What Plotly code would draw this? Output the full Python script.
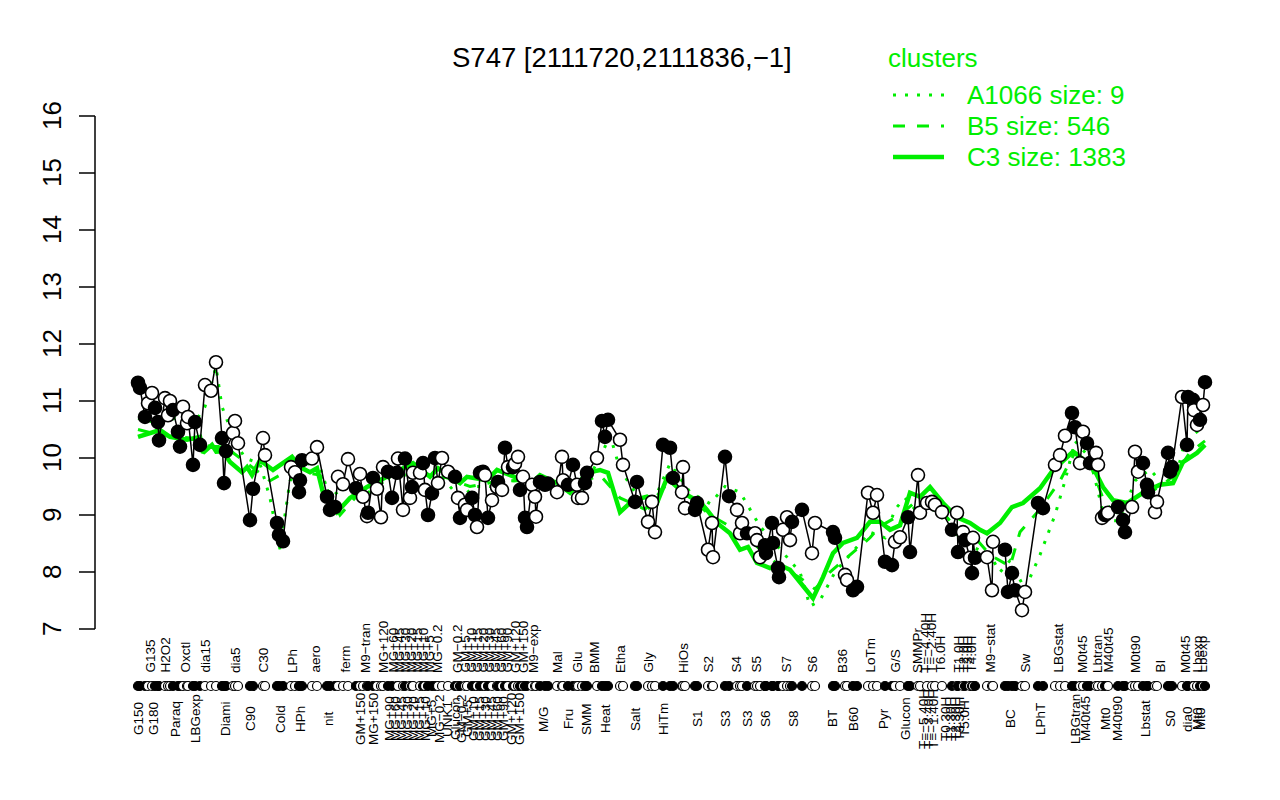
import plotly.graph_objects as go

# ---------------- data ----------------
# position along the sample axis, expression value, marker fill (1 = filled black)
pos = [0.75, 1.25, 2.5, 3.25, 4.25, 5, 5.75, 6, 7.5, 8.25, 8.75, 9.5, 10.75, 11.25, 12, 13, 13.25, 14.5, 15, 16.25,
       17.5, 19, 20.25, 21.75, 22.25, 22.75, 24.5, 25, 25.75, 28.75, 29.5, 32, 32.5, 35.5, 36, 37, 39, 40, 41, 41.25,
       41.75, 44.25, 45.5, 48, 48.75, 50, 50.75, 52, 53.25, 55.25, 56.25, 57, 58, 58.25, 59.5, 60.5, 61.5, 62, 63.25, 64.25,
       65.5, 65.75,
       67, 67.5, 68.75, 69.25, 69.5, 71.25, 72, 72.5, 73.25, 74.25, 75, 75.75, 76.75, 78.25, 80, 80.75, 81.25, 82.5, 83, 84.25,
       85, 85.5, 86.25, 87, 87.5, 88.25, 89.25, 90.5, 90.75, 91.75, 92.5, 93.25, 94.5, 95, 95.75, 96.25, 97, 97.5, 98, 99.25,
       100, 100.25, 101.25, 102.5, 103.25, 105.5, 106.75, 107, 108.25, 109.5, 110.5, 110.75, 111.75, 112.5, 113, 115.5,
       116.75, 117.5, 118.25, 121.25, 122, 125, 125.5, 128.25, 129.25, 130, 132, 133.75, 134.5, 136.75, 137, 137.5, 140, 140.5,
       143.25, 144.25, 144.5, 147.5, 148.5, 150.5, 151.25, 151.75, 153, 155, 155.5, 156.25, 157.5, 157.75, 159.25, 159.5,
       160.75, 161, 162, 163, 163.75, 164.25, 166.75, 169.25, 170, 174.5, 175, 177.5, 178, 179.5, 180.5, 183.25, 184.5, 185.5,
       187.5, 189.25, 190, 191.25, 193.25, 193.75, 195.75, 196.25, 198, 199.25, 200, 201.75, 204.25, 205.5, 205.75, 207, 207.5,
       208.75, 209.25, 209.5, 210,
       213, 214.25, 214.5, 217.5, 218.25, 219.25, 220, 221.75, 222.5, 225.75, 227, 230, 231.25, 232.5, 234.25, 235, 236.25,
       237, 238, 238.75, 240.25, 240.75, 241.75, 242.5, 243.25, 245.75, 247, 247.5, 249.25, 250, 250.75, 252, 253, 253.25,
       255, 255.5, 258.25, 258.75, 259.25, 261.75, 263, 263.25, 264.5, 264.75, 265.5, 266.25, 267, 267.5]
expr = [11.32, 11.23, 10.72, 10.96, 11.14, 10.88, 10.63, 10.31, 11.05, 10.75, 11.0, 10.84, 10.46, 10.2, 10.9, 10.61, 10.72, 9.88, 10.63, 10.23,
        11.28, 11.18, 11.68, 10.35, 9.56, 10.12, 10.44, 10.65, 10.26, 8.91, 9.46, 10.35, 10.05, 8.86, 8.65, 8.54, 9.84, 9.75, 9.4, 9.61,
        9.96, 9.99, 10.19, 9.32, 9.09, 9.14, 9.67, 9.54, 9.98, 9.47, 9.72, 9.32, 8.98, 9.04, 9.65, 9.46, 8.96, 9.84, 9.76, 9.3,
        9.74, 9.99,
        9.09, 9.99, 9.3, 9.49, 9.74, 9.74, 9.91, 9.44, 9.0, 9.38, 10.0, 9.56, 10.0, 9.76, 9.67, 9.3, 8.95, 9.18, 9.09, 9.3,
        9.0, 8.79, 9.74, 9.76, 9.7, 8.95, 9.26, 9.49, 9.58, 9.44, 10.18, 9.84, 9.84, 9.9, 10.02, 9.44, 9.67, 8.95, 8.79, 9.53,
        9.32, 8.97, 9.58, 9.53, 9.55, 9.4, 10.02, 9.61, 9.53, 9.88, 9.53, 9.3, 9.3, 9.56, 9.74, 10.0,
        10.65, 10.37, 10.67, 10.32, 9.88, 9.23, 9.58, 8.88, 9.23, 8.7, 10.23, 10.18, 9.65, 9.4, 9.84, 9.12, 9.09, 9.21,
        8.39, 8.86, 8.26, 10.02, 9.33, 9.09, 8.68, 8.86, 8.68, 8.68, 8.56, 8.26, 8.47, 8.33, 8.86, 8.51,
        8.07, 7.91, 8.74, 8.96, 8.56, 8.88, 9.09, 8.33, 8.86, 8.7, 8.6, 7.95, 7.86, 7.68, 7.74, 9.39, 9.04, 9.35,
        8.18, 8.12, 8.53, 8.61, 8.96, 8.35, 9.7, 9.04, 9.21, 9.23, 9.18, 9.05, 8.74, 9.04, 8.35, 8.7, 8.56,
        8.25, 7.98, 8.6, 8.25,
        8.26, 7.68, 8.53, 8.39, 7.65, 7.98, 7.68, 7.33, 7.65, 9.21, 9.12, 9.88, 10.05, 10.39, 10.79, 10.54, 9.91,
        10.46, 10.26, 9.91, 10.09, 9.88, 8.95, 9.0, 9.04, 9.14, 8.91, 8.7, 9.14, 10.11, 9.76, 9.91, 9.53, 9.4,
        9.05, 9.23, 10.09, 9.76, 9.84, 11.07, 10.23, 11.07, 11.02, 10.84, 10.58, 10.67, 10.93, 11.33]
filled = [1, 1, 1, 0, 0, 1, 1, 1, 0, 0, 0, 1, 1, 1, 0, 0, 0, 1, 1, 1,
          0, 0, 0, 1, 1, 1, 0, 0, 0, 1, 1, 0, 0, 1, 1, 1, 0, 0, 1, 1,
          1, 0, 0, 1, 1, 1, 0, 0, 0, 1, 0, 0, 0, 1, 1, 0, 0, 0, 1, 1,
          1, 0,
          0, 1, 0, 1, 0, 0, 1, 0, 1, 1, 1, 0, 0, 0, 1, 0, 1, 0, 0, 1,
          1, 0, 1, 1, 0, 1, 0, 0, 1, 0, 1, 0, 1, 0, 0, 1, 0, 1, 1, 0,
          0, 0, 1, 1, 1, 0, 0, 0, 1, 1, 0, 0, 0, 1, 1, 0,
          1, 1, 1, 0, 0, 1, 1, 0, 0, 0, 1, 1, 1, 0, 0, 0, 1, 1,
          0, 0, 0, 1, 1, 0, 0, 0, 1, 0, 0, 0, 1, 1, 1, 1,
          1, 1, 0, 0, 0, 1, 1, 0, 0, 1, 1, 0, 0, 1, 1, 0, 0, 0,
          1, 1, 0, 0, 1, 1, 0, 0, 0, 0, 0, 0, 1, 0, 1, 0, 1,
          0, 1, 0, 1,
          0, 0, 0, 1, 1, 1, 1, 0, 0, 1, 1, 0, 0, 0, 1, 1, 0,
          0, 1, 1, 0, 0, 0, 1, 0, 1, 1, 1, 0, 0, 0, 1, 1, 1,
          0, 0, 1, 1, 1, 0, 1, 1, 1, 0, 0, 1, 0, 1]

# cluster mean profiles (green lines)
c3_pos = [0.75, 6.25, 8.75, 13, 16.25, 17, 19.25, 20.5, 21.25, 23.75, 26.75, 28, 29.25, 31.25, 34.5, 39.25, 41.25, 43.75,
          45.5, 47, 50.5, 53.75, 58, 63, 69.5, 73.75, 75.75, 81.25, 83, 88, 90.5, 95.5, 99.5, 101.25, 105.5, 108.75, 113,
          116.25, 118.25, 121.25, 124.5, 128, 130.5, 133, 135.5, 138.75, 141.25, 143, 145.5, 148.75, 151.25, 153.25, 155.5,
          158.75, 161.25, 163.75, 166.25, 169.5, 172, 174.5, 177, 180.5, 183.75, 186.25, 188.75, 191.25, 193.75, 196.25,
          198.75, 202, 205.5, 208.75, 211.25, 213, 216.25, 219.25, 222, 226.25, 229.5, 232, 234.5, 236.25, 239.5, 242,
          244.5, 248, 252, 256.25, 259.5, 262, 265.5, 267.5]
c3_val = [10.37, 10.49, 10.37, 10.32, 10.37, 10.09, 10.23, 10.09, 10.2, 9.93, 9.75, 9.84, 9.7, 9.96, 9.79, 10.02, 9.84, 9.75,
          9.82, 9.39, 9.05, 9.3, 9.49, 9.67, 9.91, 9.67, 9.82, 9.56, 9.67, 9.61, 9.79, 9.65, 9.58, 9.7, 9.56, 9.39, 9.74,
          9.79, 9.74, 9.05, 9.26, 9.32, 9.21, 9.65, 9.49, 9.32, 9.23, 9.09, 8.86, 8.68, 8.39, 8.44, 8.16,
          8.07, 8.12, 8.04, 7.81, 7.54, 7.91, 8.33, 8.51, 8.6, 8.88, 8.88, 8.74, 8.82, 9.39, 9.32,
          9.49, 9.21, 8.96, 8.86, 8.74, 8.68, 8.86, 9.14, 9.21, 9.47, 9.79, 9.96, 10.11, 10.02, 9.84, 9.49,
          9.26, 9.21, 9.39, 9.53, 9.56, 9.93, 10.09, 10.23]

b5_pos = [0.75, 6.25, 13.75, 18.75, 22.5, 26.25, 30, 33.75, 38.75, 46.25, 51.25, 56.25, 66.25, 76.25, 83.75, 91.25, 101.25,
          108.75, 116.25, 121.25, 127.5, 132.5, 138.75, 143.75, 151.25, 156.25, 161.25, 166.25, 170, 173.75, 178.75, 183.75,
          186.25, 191.25, 196.25, 201.25, 206.25, 210, 213.75, 218.75, 221.25, 226.25, 231.25, 235, 238.75, 242.5, 246.25,
          251.25, 256.25, 260, 263.75, 267.5]
b5_val = [10.5, 10.4, 10.35, 10.2, 10.2, 10.0, 9.8, 9.6, 9.8, 9.7, 9.0, 9.4, 9.7, 9.7, 9.5, 9.6, 9.6,
          9.5, 9.7, 9.3, 9.1, 9.5, 9.3, 9.0, 8.7, 8.4, 8.1, 7.9, 7.7, 8.0, 8.3, 8.6,
          8.8, 9.0, 9.3, 9.1, 8.7, 8.6, 8.3, 8.1, 8.7, 9.1, 9.6, 10.1, 9.9, 9.2, 9.0,
          9.3, 9.5, 9.7, 10.1, 10.3]

a1066_pos = [0.75, 6.25, 10, 13.75, 17.5, 20.25, 21.75, 25, 27.5, 31.25, 33.75, 36.25, 38.75, 41.25, 45.5, 48.75, 52.5,
             58.75, 66.25, 71.25, 76.25, 81.25, 85, 88.75, 93.75, 101.25, 106.25, 111.25, 116.25, 118.75, 121.25, 125,
             128.75, 131.25, 133.75, 138.75, 143.75, 147.5, 151.25, 156.25, 161.25, 166.25, 168.75, 171.25, 175, 178.75,
             183.75, 187.5, 190, 192.5, 196.25, 200, 203.75, 207.5, 213.75, 216.25, 218.75, 222.5, 226.25, 230, 232.5,
             235, 238.75, 242.5, 246.25, 250, 253.75, 257.5, 260, 262.5, 266.25]
a1066_val = [10.7, 10.6, 10.7, 10.5, 10.9, 11.6, 10.9, 10.3, 10.0, 9.9, 9.3, 8.4, 9.6, 9.8, 10.0, 9.3, 9.5,
             9.4, 9.8, 9.8, 9.7, 9.3, 9.5, 9.5, 9.6, 9.6, 9.5, 9.4, 10.0, 10.4, 9.8, 9.4,
             9.1, 9.5, 9.9, 9.4, 9.2, 9.5, 9.4, 8.8, 8.4, 8.0, 7.4, 7.5, 8.0, 8.3,
             8.7, 8.6, 9.1, 9.3, 9.0, 9.1, 8.8, 8.5, 8.3, 8.0, 8.2, 7.7, 8.3, 9.0, 9.6,
             10.3, 10.0, 8.9, 8.9, 9.6, 9.8, 9.5, 9.6, 10.3, 10.5]

legend_names = ["A1066 size: 9", "B5 size: 546", "C3 size: 1383"]

# condition labels (upper row / lower row) and their sample positions
upper_labels = ["G135", "H2O2", "Oxctl", "dia15", "dia5", "C30", "LPh", "aero", "ferm", "M9\u2212tran", "MG+120",
                "MG+60", "MG+45", "MG+30", "MG+20", "MG+15", "MG+10", "MG+5", "MG\u22120.2", "GM\u22120.2", "GM+5",
                "GM+10", "GM+15", "GM+20", "GM+30", "GM+45", "GM+60", "GM+90", "GM+120", "GM+150", "M9\u2212exp",
                "Mal", "Glu", "BMM", "Etha", "Gly", "HiOs", "S2", "S4", "S5", "S7", "S6", "B36", "LoTm", "G/S",
                "SMMPr", "T=\u22124.40H", "T=\u22122.40H", "T6.0H", "T1.0H", "T2.0H", "T3.0H", "T4.0H", "M9\u2212stat",
                "Sw", "LBGstat", "M0t45", "Lbtran", "M40t45", "M0t90", "BI", "M0t45", "Lbexp", "Lbexp"]
upper_pos = [3.75, 7.5, 12.5, 17.5, 25, 32, 39.25, 45, 52.5, 57.5, 62,
             64.5, 66, 67.5, 69, 70.5, 72, 73.5, 75.5, 80.5, 82.5,
             84, 85.5, 87, 88.5, 90, 91.5, 93, 95, 97, 99.5,
             105.5, 110.5, 114.75, 121.25, 128.25, 137, 143.25, 150.25, 155.25, 162.75, 169.25, 176.75, 183.75, 190,
             195.5, 197.5, 199, 201.25, 205.75, 207, 208, 209, 213.75,
             222.5, 230.75, 236.75, 240.5, 243.25, 250, 256.25, 262.5, 265.5, 266.75]
lower_labels = ["G150", "G180", "Paraq", "LBGexp", "Diami", "C90", "Cold", "HPh", "nit", "GM+150", "MG+150",
                "MG+90", "MG+60", "MG+45", "MG+30", "MG+20", "MG+15", "MG+10", "MG+5", "MG\u22120.2", "UNK1",
                "Glucon", "GM\u22120.2", "GM+5", "GM+10", "GM+15", "GM+30", "GM+45", "GM+60", "GM+90", "GM+120",
                "GM+150", "M/G", "Fru", "SMM", "Heat", "Salt", "HiTm", "S1", "S3", "S3", "S6", "S8", "BT", "B60",
                "Pyr", "Glucon", "T=\u22125.40H", "T=\u22123.40H", "T=\u22121.40H", "T0.30H", "T1.30H", "T2.30H",
                "T3.30H", "T5.0H", "BC", "LPhT", "LBGtran", "M40t45", "Mt0", "M40t90", "Lbstat", "S0", "dia0",
                "Mt0", "Mt0"]
lower_pos = [0.75, 4.5, 10, 15, 22.5, 28.75, 36.25, 41.25, 48.25, 56.25, 59.5,
             63.5, 65, 66.5, 68, 69.5, 71, 72.5, 74, 76, 78,
             80, 81.5, 83, 84.5, 86, 87.5, 89, 90.5, 92, 94,
             96, 102, 108.25, 112.75, 117.5, 125, 132, 140.5, 147.5, 153, 157.5, 164.5, 174.25, 179.5,
             187, 192.5, 197, 198.25, 199.5, 202.5, 203.75, 205,
             206, 207.25, 218.75, 226.25, 235, 237.5, 242.5, 245.5, 252.5, 258.75, 263,
             265.5, 266.25]

y_ticks = [7, 8, 9, 10, 11, 12, 13, 14, 15, 16]
title_text = "S747 [2111720,2111836,\u22121]"

# ---------------- layout helpers ----------------
FONT = "Liberation Sans, Arial, Helvetica, sans-serif"
GREEN = "#00EE00"
OFF = 8                      # default page body margin in the browser
WF, HF = 1280 - 2 * OFF, 800 - 2 * OFF
X0, XSCALE = 135.0 - OFF, 4.0     # figure pixel of sample position 0, pixels per position unit
Y16, YSCALE = 116.0 - OFF, 57.0   # figure pixel of value 16, pixels per value unit
xr = [(0 - X0) / XSCALE, (WF - X0) / XSCALE]
yr = [16 + (Y16 - HF) / YSCALE, 16 + Y16 / YSCALE]
rug_level = 16 - (686 - 116) / YSCALE


def px(x):
    """screen pixel x -> paper fraction"""
    return (x - OFF) / WF


def py(y):
    """screen pixel y -> paper fraction"""
    return 1 - (y - OFF) / HF


fig = go.Figure()

# green cluster profiles
fig.add_trace(go.Scatter(x=a1066_pos, y=a1066_val, mode="lines",
                         line=dict(color=GREEN, width=3, dash="3px,9px"), hoverinfo="skip"))
fig.add_trace(go.Scatter(x=b5_pos, y=b5_val, mode="lines",
                         line=dict(color=GREEN, width=3, dash="12px,12px"), hoverinfo="skip"))
fig.add_trace(go.Scatter(x=c3_pos, y=c3_val, mode="lines",
                         line=dict(color=GREEN, width=4.5), hoverinfo="skip"))

# black profile with points
fills = ["black" if f else "white" for f in filled]
fig.add_trace(go.Scatter(x=pos, y=expr, mode="lines+markers",
                         line=dict(color="black", width=1.5),
                         marker=dict(size=13, color=fills, line=dict(color="black", width=1.6))))

# rug of samples below the axis
fig.add_trace(go.Scatter(x=pos, y=[rug_level] * len(pos), mode="markers",
                         marker=dict(size=9, color=fills, line=dict(color="black", width=1.2)),
                         cliponaxis=False))

shapes = []
annotations = []

# y axis drawn R-style
ax_x = 95
shapes.append(dict(type="line", xref="paper", yref="y", x0=px(ax_x), x1=px(ax_x), y0=min(y_ticks), y1=max(y_ticks),
                   line=dict(color="black", width=1.5)))
for t in y_ticks:
    shapes.append(dict(type="line", xref="paper", yref="y", x0=px(ax_x - 16), x1=px(ax_x), y0=t, y1=t,
                       line=dict(color="black", width=1.5)))
    annotations.append(dict(xref="paper", yref="y", x=px(52), y=t, text=str(t), showarrow=False,
                            textangle=-90, xanchor="center", yanchor="middle",
                            font=dict(family=FONT, size=26, color="black")))

# x labels
for lab, p in zip(upper_labels, upper_pos):
    annotations.append(dict(xref="x", yref="paper", x=p, y=py(674), text=lab, showarrow=False,
                            textangle=-90, xanchor="center", yanchor="bottom", borderpad=0,
                            font=dict(family=FONT, size=13.5, color="black")))
for lab, p in zip(lower_labels, lower_pos):
    annotations.append(dict(xref="x", yref="paper", x=p, y=py(719), text=lab, showarrow=False,
                            textangle=-90, xanchor="center", yanchor="middle", borderpad=0,
                            font=dict(family=FONT, size=13.5, color="black")))

# title
annotations.append(dict(xref="paper", yref="paper", x=px(622), y=py(57), text=title_text, showarrow=False,
                        xanchor="center", yanchor="middle", font=dict(family=FONT, size=27.5, color="black")))

# legend
annotations.append(dict(xref="paper", yref="paper", x=px(886), y=py(58), text="clusters", showarrow=False,
                        xanchor="left", yanchor="middle", font=dict(family=FONT, size=26, color=GREEN)))
leg_styles = [dict(width=3, dash="3px,9px"), dict(width=3, dash="12px,12px"), dict(width=4.5)]
for i, (name, st) in enumerate(zip(legend_names, leg_styles)):
    yy = 95 + i * 31
    shapes.append(dict(type="line", xref="paper", yref="paper", x0=px(893), x1=px(944), y0=py(yy), y1=py(yy),
                       line=dict(color=GREEN, **st)))
    annotations.append(dict(xref="paper", yref="paper", x=px(965), y=py(yy), text=name, showarrow=False,
                            xanchor="left", yanchor="middle", font=dict(family=FONT, size=26, color=GREEN)))

fig.update_layout(
    width=WF, height=HF, margin=dict(l=0, r=0, t=0, b=0),
    paper_bgcolor="white", plot_bgcolor="white", showlegend=False,
    xaxis=dict(range=xr, visible=False, fixedrange=True),
    yaxis=dict(range=yr, visible=False, fixedrange=True),
    shapes=shapes, annotations=annotations,
)

fig.write_html("out.html")
